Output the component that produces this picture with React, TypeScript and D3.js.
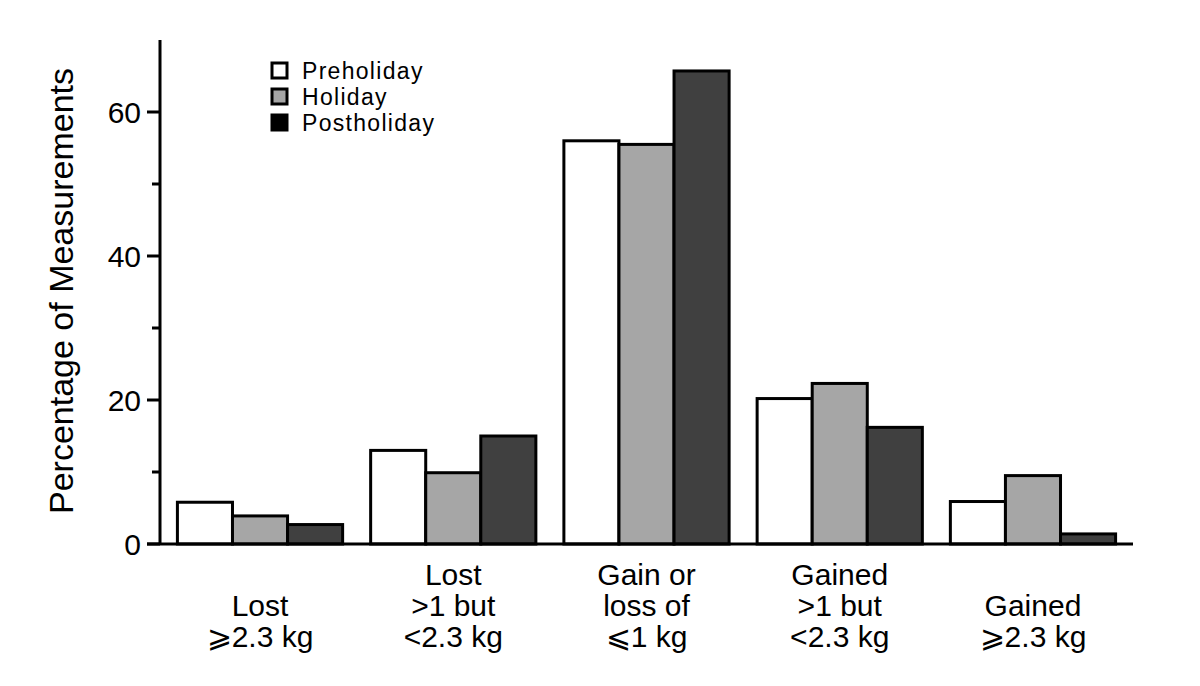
import React from "react";
import * as d3 from "d3";

const categories = [
  ["Lost", "⩾2.3 kg"],
  ["Lost", ">1 but", "<2.3 kg"],
  ["Gain or", "loss of", "⩽1 kg"],
  ["Gained", ">1 but", "<2.3 kg"],
  ["Gained", "⩾2.3 kg"],
];
const seriesNames = ["Preholiday", "Holiday", "Postholiday"];
const preholiday = [5.8, 13.0, 56.0, 20.2, 5.9];
const holiday = [3.9, 9.9, 55.5, 22.3, 9.5];
const postholiday = [2.7, 15.0, 65.7, 16.2, 1.4];
const yTicks = [0, 20, 40, 60];
const yMinorTicks = [10, 30, 50];

const barFills = ["#ffffff", "#a6a6a6", "#404040"];
const legendFills = ["#ffffff", "#a6a6a6", "#000000"];
const FONT = "'Liberation Sans', Arial, sans-serif";

export default function App() {
  const series = [preholiday, holiday, postholiday];
  const idx = categories.map((_, i) => String(i));
  const x = d3.scaleBand().domain(idx).range([163.4, 1129.6]).paddingInner(0.145).paddingOuter(0.0725);
  const xi = d3.scaleBand().domain(seriesNames).range([0, x.bandwidth()]).padding(0);
  const y = d3.scaleLinear().domain([0, 70]).range([544, 40]);
  const axisX = 160;

  return (
    <svg width={1200} height={686} style={{ position: "absolute", left: 0, top: 0, background: "#fff" }}>
      <rect x={0} y={0} width={1200} height={686} fill="#fff" />
      {/* bars */}
      {idx.map((c, ci) =>
        seriesNames.map((s, si) => {
          const v = series[si][ci];
          const bx = (x(c) as number) + (xi(s) as number);
          return (
            <rect
              key={c + s}
              x={bx}
              y={y(v)}
              width={xi.bandwidth()}
              height={y(0) - y(v)}
              fill={barFills[si]}
              stroke="#000"
              strokeWidth={3}
            />
          );
        })
      )}
      {/* y axis */}
      <line x1={axisX} x2={axisX} y1={y(70)} y2={y(0)} stroke="#000" strokeWidth={3} />
      {yTicks.map((t) => (
        <g key={t}>
          <line x1={axisX - 13} x2={axisX} y1={y(t)} y2={y(t)} stroke="#000" strokeWidth={3} />
          <text x={axisX - 19} y={y(t)} dy="0.36em" textAnchor="end" fontFamily={FONT} fontSize={30}>
            {t}
          </text>
        </g>
      ))}
      {yMinorTicks.map((t) => (
        <line key={t} x1={axisX - 8} x2={axisX} y1={y(t)} y2={y(t)} stroke="#000" strokeWidth={3} />
      ))}
      {/* x axis */}
      <line x1={axisX - 13} x2={1133} y1={y(0)} y2={y(0)} stroke="#000" strokeWidth={3} />
      {/* y title */}
      <text
        transform={`translate(73, ${y(35) - 1}) rotate(-90)`}
        textAnchor="middle"
        fontFamily={FONT}
        fontSize={34}
      >
        Percentage of Measurements
      </text>
      {/* category labels */}
      {categories.map((lines, ci) => {
        const cx = (x(String(ci)) as number) + x.bandwidth() / 2;
        const n = lines.length;
        return (
          <text key={ci} textAnchor="middle" fontFamily={FONT} fontSize={30}>
            {lines.map((l, li) => (
              <tspan key={li} x={cx} y={647 - (n - 1 - li) * 31}>
                {l}
              </tspan>
            ))}
          </text>
        );
      })}
      {/* legend */}
      {seriesNames.map((s, si) => (
        <g key={s} transform={`translate(272, ${63 + si * 26})`}>
          <rect x={0} y={0} width={15} height={15} fill={legendFills[si]} stroke="#000" strokeWidth={3} />
          <text x={30} y={16} fontFamily={FONT} fontSize={23} letterSpacing={1.3}>
            {s}
          </text>
        </g>
      ))}
    </svg>
  );
}
